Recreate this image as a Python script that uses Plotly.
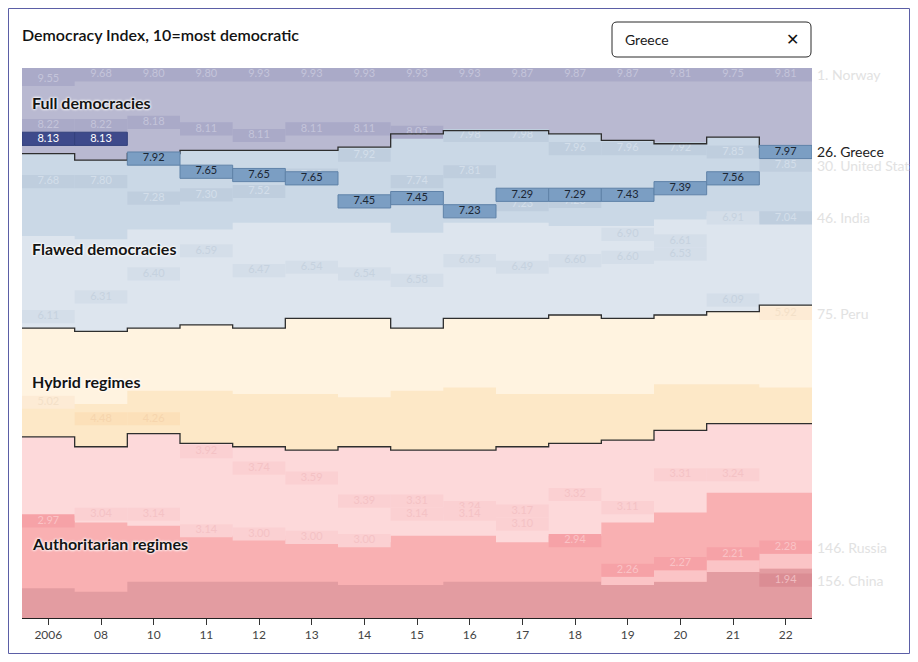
import plotly.graph_objects as go

# ---------------- data ----------------
years = ["2006", "08", "10", "11", "12", "13", "14", "15", "16", "17", "18", "19", "20", "21", "22"]
n_countries = 167

# rank positions (number of countries above each boundary)
full_end = [26, 28, 26, 25, 25, 25, 24, 20, 19, 19, 20, 22, 23, 21, 24]
flawed_7 = [51, 52, 49, 49, 47, 47, 47, 50, 47, 47, 48, 48, 46, 45, 47]
flawed_end = [79, 80, 79, 78, 79, 76, 76, 79, 76, 76, 75, 76, 75, 74, 72]
hybrid_5 = [102, 102, 98, 98, 99, 99, 100, 98, 97, 99, 99, 99, 96, 96, 97]
hybrid_end = [112, 115, 111, 114, 115, 116, 115, 116, 116, 115, 114, 113, 110, 108, 108]
auth_3 = [136, 138, 139, 142, 142, 143, 144, 142, 142, 144, 142, 138, 135, 129, 129]
auth_2 = [158, 159, 156, 156, 156, 156, 157, 157, 156, 156, 156, 157, 156, 153, 152]
auth_light_start = [None] * 11 + [154.5, 152.5, 149.5, 147.5]

norway_rank = [4, 2, 1, 1, 1, 1, 1, 1, 1, 1, 1, 1, 1, 1, 1]
norway_score = [9.55, 9.68, 9.80, 9.80, 9.93, 9.93, 9.93, 9.93, 9.93, 9.87, 9.87, 9.87, 9.81, 9.75, 9.81]
greece_rank = [22, 22, 28, 32, 33, 34, 41, 40, 44, 39, 39, 39, 37, 34, 26]
greece_score = [8.13, 8.13, 7.92, 7.65, 7.65, 7.65, 7.45, 7.45, 7.23, 7.29, 7.29, 7.43, 7.39, 7.56, 7.97]
us_rank = [18, 18, 17, 19, 21, 19, 19, 20, 21, 21, 25, 25, 25, 26, 30]
us_score = [8.22, 8.22, 8.18, 8.11, 8.11, 8.11, 8.11, 8.05, 7.98, 7.98, 7.96, 7.96, 7.92, 7.85, 7.85]
india_rank = [35, 35, 40, 39, 38, 33, 27, 35, 32, 42, 41, 51, 53, 46, 46]
india_score = [7.68, 7.80, 7.28, 7.30, 7.52, 7.69, 7.92, 7.74, 7.81, 7.23, 7.23, 6.90, 6.61, 6.91, 7.04]
peru_rank = [76, 70, 63, 56, 62, 61, 63, 65, 59, 61, 59, 58, 57, 71, 75]
peru_score = [6.11, 6.31, 6.40, 6.59, 6.47, 6.54, 6.54, 6.58, 6.65, 6.49, 6.60, 6.60, 6.53, 6.09, 5.92]
russia_rank = [102, 107, 107, 117, 122, 125, 132, 132, 134, 135, 144, 134, 124, 124, 146]
russia_score = [5.02, 4.48, 4.26, 3.92, 3.74, 3.59, 3.39, 3.31, 3.24, 3.17, 2.94, 3.11, 3.31, 3.24, 2.28]
china_rank = [138, 136, 136, 141, 142, 143, 144, 136, 136, 139, 130, 153, 151, 148, 156]
china_score = [2.97, 3.04, 3.14, 3.14, 3.00, 3.00, 3.00, 3.14, 3.14, 3.10, 3.32, 2.26, 2.27, 2.21, 1.94]

side_names = ["Norway", "Greece", "United States", "India", "Peru", "Russia", "China"]
category_names = ["Full democracies", "Flawed democracies", "Hybrid regimes", "Authoritarian regimes"]
title = "Democracy Index, 10=most democratic"
search_text = "Greece"

# ---------------- styles ----------------
FONT = "Lato"
C_FULL, C_FULL_BOX, T_FULL = "#b9b9d1", "#aaaac8", "#c4c4da"
C_FL7, C_FL7_BOX, T_FL7 = "#cad8e6", "#bfcede", "#d3deea"
C_FL6, C_FL6_BOX, T_FL6 = "#dde5ee", "#d4dee9", "#c6d2df"
C_HY5, C_HY5_BOX, T_HY5 = "#fff3e0", "#fdebd5", "#f3e0c8"
C_HY4, C_HY4_BOX, T_HY4 = "#fde8c7", "#fce0b9", "#f6d5ad"
C_AU3, C_AU3_BOX, T_AU3 = "#fdd9da", "#fbd0d2", "#f4c2c5"
C_AU2, C_AU2_BOX, T_AU2 = "#f9b0b2", "#f6a2a7", "#fac3c6"
C_AU1, C_AU1_BOX, T_AU1 = "#e39ca1", "#db8d94", "#efbcc0"
C_AU_LIGHT = "#fbc4c6"

n = len(years)
X = [i + 0.5 for i in range(n)]
BOX_H = 4.0

fig = go.Figure()


def poly(xs, ys, color, line=None):
    fig.add_trace(go.Scatter(x=xs, y=ys, fill="toself", fillcolor=color, mode="lines",
                             line=line if line else dict(width=0, color=color),
                             hoverinfo="skip", showlegend=False))


def rect(x0, x1, y0, y1, color, line=None):
    poly([x0, x1, x1, x0, x0], [y0, y0, y1, y1, y0], color, line)


def step_xy(vals):
    xs, ys = [], []
    for i, v in enumerate(vals):
        xs += [i, i + 1]
        ys += [v, v]
    return xs, ys


def band_from(top, color):
    xs, ys = step_xy(top)
    poly(xs + [n, 0, 0], ys + [n_countries, n_countries, top[0]], color)


band_from([0] * n, C_FULL)
band_from(full_end, C_FL7)
band_from(flawed_7, C_FL6)
band_from(flawed_end, C_HY5)
band_from(hybrid_5, C_HY4)
band_from(hybrid_end, C_AU3)
band_from(auth_3, C_AU2)
band_from(auth_2, C_AU1)

# lighter strip in the 2-3 band
for i, s in enumerate(auth_light_start):
    if s is not None:
        rect(i, i + 1, s, auth_2[i], C_AU_LIGHT)

# header strip across the top of the full democracies
rect(0, n, 0, BOX_H, C_FULL_BOX)


def style_for(score):
    if score >= 8:
        return C_FULL_BOX, T_FULL
    if score >= 7:
        return C_FL7_BOX, T_FL7
    if score >= 6:
        return C_FL6_BOX, T_FL6
    if score >= 5:
        return C_HY5_BOX, T_HY5
    if score >= 4:
        return C_HY4_BOX, T_HY4
    if score >= 3:
        return C_AU3_BOX, T_AU3
    if score >= 2:
        return C_AU2_BOX, T_AU2
    return C_AU1_BOX, T_AU1


def box_span(rank):
    c = rank - 0.5
    top = max(0.0, c - BOX_H / 2)
    bot = min(float(n_countries), top + BOX_H)
    return top, bot


def add_boxes(ranks, scores, highlight=False):
    tx, ty, tt, tc = [], [], [], []
    for i, (r, s) in enumerate(zip(ranks, scores)):
        top, bot = box_span(r)
        if highlight:
            if s >= 8:
                fill, tcol, lcol = "#3e4a8b", "#ffffff", "#33407c"
            else:
                fill, tcol, lcol = "#7b9ec3", "#1b2633", "#5f82a8"
            rect(i, i + 1, top, bot, fill, dict(color=lcol, width=1))
        else:
            fill, tcol = style_for(s)
            rect(i, i + 1, top, bot, fill)
        tx.append(X[i])
        ty.append((top + bot) / 2)
        tt.append(f"{s:.2f}")
        tc.append(tcol)
    fig.add_trace(go.Scatter(x=tx, y=ty, text=tt, mode="text",
                             textfont=dict(family=FONT, size=11, color=tc),
                             hoverinfo="skip", showlegend=False))


for rk, sc in [(norway_rank, norway_score), (us_rank, us_score), (india_rank, india_score),
               (peru_rank, peru_score), (russia_rank, russia_score), (china_rank, china_score)]:
    add_boxes(rk, sc)

# boundary lines
for b in [full_end, flawed_end, hybrid_end]:
    xs, ys = step_xy(b)
    fig.add_trace(go.Scatter(x=xs, y=ys, mode="lines", line=dict(color="#2e2e2e", width=1.3),
                             hoverinfo="skip", showlegend=False))

add_boxes(greece_rank, greece_score, highlight=True)

# ---------------- layout / annotations ----------------
# page offset of the figure (default body margin) = 8 px
OFF = 8
FIG_W, FIG_H = 918 - 2 * OFF, 662 - 2 * OFF
L, R, T, B = 22, 812, 68, 618          # plot area, page pixels
W, H = R - L, B - T


def px(xp):
    return (xp - L) / W


def py(yp):
    return (B - yp) / H


annotations = []
halo = "0px 0px 2px #fff, 0px 0px 3px #fff, 0px 0px 3px #fff"
cat_y = [10.5, 54.8, 95.2, 144.3]
for name, yk in zip(category_names, cat_y):
    annotations.append(dict(x=px(30), xref="paper", y=yk, yref="y", text=name, showarrow=False,
                            xanchor="left", yanchor="middle",
                            font=dict(family=FONT, size=16, color="#141414", weight=700, shadow=halo)))

side_ranks = [norway_rank[-1], greece_rank[-1], us_rank[-1], india_rank[-1], peru_rank[-1],
              russia_rank[-1], china_rank[-1]]
for name, r in zip(side_names, side_ranks):
    top, bot = box_span(r)
    col = "#222222" if name == search_text else "#e2e2e2"
    annotations.append(dict(x=px(815), xref="paper", y=(top + bot) / 2, yref="y",
                            text=f"{r}. {name}", showarrow=False, xanchor="left", yanchor="middle",
                            font=dict(family=FONT, size=14, color=col)))

annotations.append(dict(x=px(20), xref="paper", y=py(35), yref="paper", text=title, showarrow=False,
                        xanchor="left", yanchor="middle",
                        font=dict(family=FONT, size=16, color="#121212", weight=600)))
annotations.append(dict(x=px(623), xref="paper", y=py(40), yref="paper", text=search_text,
                        showarrow=False, xanchor="left", yanchor="middle",
                        font=dict(family=FONT, size=14, color="#1a1a1a")))
annotations.append(dict(x=px(792), xref="paper", y=py(40), yref="paper", text="✕",
                        showarrow=False, xanchor="center", yanchor="middle",
                        font=dict(family="DejaVu Sans", size=16, color="#111111", weight=700)))

# rounded search box
x0, x1, y0, y1 = px(612), px(811), py(57), py(22)
rx, ry = 5 / W, 5 / H
path = (f"M {x0+rx},{y0} L {x1-rx},{y0} Q {x1},{y0} {x1},{y0+ry} L {x1},{y1-ry} Q {x1},{y1} {x1-rx},{y1} "
        f"L {x0+rx},{y1} Q {x0},{y1} {x0},{y1-ry} L {x0},{y0+ry} Q {x0},{y0} {x0+rx},{y0} Z")
shapes = [
    dict(type="path", path=path, xref="paper", yref="paper", line=dict(color="#2a2a2a", width=1),
         fillcolor="rgba(0,0,0,0)"),
    dict(type="rect", xref="paper", yref="paper", x0=px(OFF + 0.5), x1=px(OFF + FIG_W - 0.5),
         y0=py(OFF + FIG_H - 0.5), y1=py(OFF + 0.5),
         line=dict(color="#5b5ea6", width=1), fillcolor="rgba(0,0,0,0)", layer="above"),
]

fig.update_layout(
    width=FIG_W, height=FIG_H,
    margin=dict(l=L - OFF, r=OFF + FIG_W - R, t=T - OFF, b=OFF + FIG_H - B, autoexpand=False),
    paper_bgcolor="white", plot_bgcolor="white",
    showlegend=False,
    font=dict(family=FONT),
    xaxis=dict(range=[0, n], tickvals=X, ticktext=years, showgrid=False, zeroline=False,
               showline=True, linecolor="#222222", linewidth=1, ticks="outside", ticklen=6,
               tickcolor="#333333", tickfont=dict(family=FONT, size=12, color="#444444"),
               fixedrange=True),
    yaxis=dict(range=[n_countries, 0], visible=False, fixedrange=True),
    annotations=annotations,
    shapes=shapes,
)

fig.write_html("out.html")
